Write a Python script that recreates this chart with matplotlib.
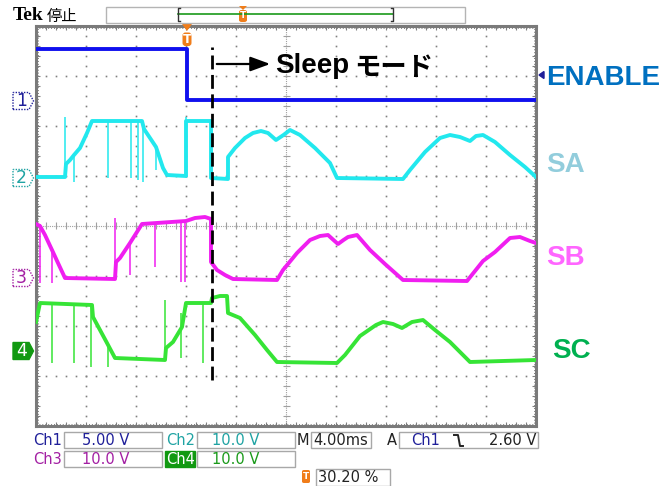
import numpy as np
import matplotlib
matplotlib.use('Agg')
import matplotlib.pyplot as plt
from matplotlib.patches import Polygon, Rectangle, FancyBboxPatch

# Scope settings
TIME_DIV = 4.0                      # ms / div
CH_SCALE = [5.0, 10.0, 10.0, 10.0]  # V / div
CH_OFFSET = [6.5, 4.96, 2.96, 1.5]  # ground level, divisions from bottom
TRIG_POS = 3.02                     # div (30.20 %)
TRIG_LEVEL = 2.60                   # V on Ch1

# Traces: time in ms from left edge, value in volts
ENABLE_T = [0, 12.08, 12.08, 40]
ENABLE_V = [5.2, 5.2, 0.1, 0.1]

SA_T = [0, 2.32, 2.40, 2.72, 3.04, 3.52, 4.08, 4.48, 8.48, 8.64, 9.12, 9.60, 10.16, 10.48,
        12.0, 12.0, 14.0, 14.0, 15.36, 15.36, 15.92, 16.72, 17.36, 18.0, 18.56, 19.2, 19.8,
        20.32, 21.12, 22.32, 23.52, 24.08, 29.36, 29.92, 31.12, 32.32, 33.12, 33.92, 34.72,
        35.2, 35.76, 36.72, 37.92, 39.12, 40.0]
SA_V = [0.2, 0.2, 2.8, 3.6, 4.6, 6.0, 9.0, 11.4, 11.4, 9.8, 8.0, 6.2, 2.0, 0.6,
        0.4, 11.4, 11.4, 0.0, -0.2, 4.2, 6.0, 8.0, 9.0, 9.4, 9.0, 7.6, 8.6,
        9.6, 8.6, 6.0, 3.0, 0.0, -0.2, 1.6, 5.2, 8.0, 8.6, 8.2, 7.4,
        8.4, 8.6, 7.2, 4.6, 2.2, 0.2]
SA_GLITCH_T = [2.32, 3.04, 5.76, 7.6, 8.16, 8.56, 9.6, 12.0]
SA_GLITCH_LO = [0.2, -0.8, 0.0, 0.0, -0.4, -0.8, 1.6, 0.4]
SA_GLITCH_HI = [12.2, 4.6, 11.4, 11.4, 11.4, 11.4, 6.2, 12.2]

SB_T = [0, 0.32, 0.72, 1.28, 1.76, 2.32, 6.32, 6.40, 6.72, 7.52, 8.48, 12.0, 12.72, 13.52,
        14.0, 14.0, 14.48, 15.12, 15.76, 19.28, 19.76, 20.88, 21.92, 22.72, 23.36, 23.8,
        24.16, 24.6, 24.96, 25.68, 26.72, 27.92, 29.36, 34.48, 35.76, 36.72, 37.92, 38.72,
        39.52, 40.0]
SB_V = [10.8, 10.4, 8.6, 5.6, 3.0, 0.0, -0.2, 3.2, 4.0, 7.0, 10.8, 11.4, 12.0, 12.2,
        11.8, 3.2, 1.6, 0.6, -0.2, -0.4, 1.6, 5.0, 7.6, 8.4, 8.6, 7.6,
        6.8, 7.6, 8.2, 8.6, 5.6, 2.8, -0.4, -0.6, 3.4, 5.2, 8.0, 8.2,
        7.4, 7.0]
SB_GLITCH_T = [0.28, 1.28, 6.32, 7.52, 9.52, 11.6, 11.92]
SB_GLITCH_LO = [-1.0, -1.0, -0.2, 0.6, 2.2, -0.8, -0.8]
SB_GLITCH_HI = [10.8, 5.6, 12.0, 7.0, 10.9, 11.2, 11.3]

SC_T = [0, 0.32, 4.48, 4.56, 5.12, 5.68, 6.32, 10.32, 10.4, 10.96, 11.68, 12.0, 14.0,
        14.08, 14.72, 15.28, 15.36, 16.32, 17.52, 18.48, 19.28, 24.08, 24.72, 25.92,
        27.2, 27.76, 28.56, 29.28, 30.08, 30.96, 31.92, 33.12, 34.72, 40.0]
SC_V = [5.8, 9.6, 9.2, 6.8, 4.2, 1.6, -1.4, -1.8, 0.6, 1.8, 4.8, 9.6, 9.6,
        10.6, 11.0, 11.0, 7.6, 6.6, 3.2, 0.2, -2.2, -2.4, -0.8, 3.0,
        5.2, 5.8, 5.4, 4.6, 5.8, 6.2, 4.2, 1.8, -2.2, -1.8]
SC_GLITCH_T = [1.28, 3.04, 4.4, 5.76, 10.32, 11.6, 13.36]
SC_GLITCH_LO = [-2.4, -2.4, -3.2, -3.2, -1.8, -1.4, -2.4]
SC_GLITCH_HI = [9.2, 9.2, 9.2, 1.4, 10.2, 7.6, 9.6]

SLEEP_T = 14.08  # ms, start of sleep mode marker

TRACE_COLORS = ['#1010EE', '#22E8EE', '#F01EF0', '#36E436']
LABELS = ['ENABLE', 'SA', 'SB', 'SC']
LABEL_COLORS = ['#0070C0', '#92CDDC', '#FF66FF', '#00B050']
LABEL_BASE = [85, 172, 265, 358]
MARK_COLORS = ['#1F1F99', '#1FA3A3', '#A31FA3', '#119911']

W, H = 661, 486


def fx(x):
    return x / W


def fy(y):
    return 1 - y / H


def to_div(t, v, ch):
    return np.asarray(t) / TIME_DIV, CH_OFFSET[ch] + np.asarray(v) / CH_SCALE[ch]


fig = plt.figure(figsize=(W / 100, H / 100), dpi=100)
ax = fig.add_axes([fx(36), fy(426), 500 / W, 400 / H])
ax.set_xlim(0, 10)
ax.set_ylim(0, 8)
ax.set_xticks([])
ax.set_yticks([])
for s in ax.spines.values():
    s.set_color('#7a7a7a')
    s.set_linewidth(2.2)

# graticule
grid_c = '#808080'
ys = np.arange(0, 8.01, 0.2)
xs = np.arange(0, 10.01, 0.2)
for xv in range(1, 10):
    if xv == 5:
        continue
    ax.plot(np.full(len(ys), xv), ys, ls='none', marker='s', ms=1.2, color=grid_c, mew=0)
for yv in range(1, 8):
    if yv == 4:
        continue
    ax.plot(xs, np.full(len(xs), yv), ls='none', marker='s', ms=1.2, color=grid_c, mew=0)
ax.axvline(5, color='#a0a0a0', lw=0.8, ls=(0, (1, 1)))
ax.axhline(4, color='#a0a0a0', lw=0.8, ls=(0, (1, 1)))
ax.hlines(ys, 5 - 0.07, 5 + 0.07, color='#a0a0a0', lw=0.8)
ax.vlines(xs, 4 - 0.07, 4 + 0.07, color='#a0a0a0', lw=0.8)
# border ticks
ax.hlines(ys, 0, 0.08, color=grid_c, lw=0.8)
ax.hlines(ys, 10 - 0.08, 10, color=grid_c, lw=0.8)
ax.vlines(xs, 0, 0.08, color=grid_c, lw=0.8)
ax.vlines(xs, 8 - 0.08, 8, color=grid_c, lw=0.8)
for yv in (0.05, 7.95):
    ax.axhline(yv, color=grid_c, lw=0.7, ls=(0, (1, 2)))
for xv in (0.04, 9.96):
    ax.axvline(xv, color=grid_c, lw=0.7, ls=(0, (1, 2)))

# traces
traces = [(ENABLE_T, ENABLE_V, None),
          (SA_T, SA_V, (SA_GLITCH_T, SA_GLITCH_LO, SA_GLITCH_HI)),
          (SB_T, SB_V, (SB_GLITCH_T, SB_GLITCH_LO, SB_GLITCH_HI)),
          (SC_T, SC_V, (SC_GLITCH_T, SC_GLITCH_LO, SC_GLITCH_HI))]
for ch, (t, v, gl) in enumerate(traces):
    x, y = to_div(t, v, ch)
    ax.plot(x, y, color=TRACE_COLORS[ch], lw=2.8, zorder=3, solid_joinstyle='round')
    if gl is not None:
        gx, glo = to_div(gl[0], gl[1], ch)
        _, ghi = to_div(gl[0], gl[2], ch)
        ax.vlines(gx, glo, ghi, color=TRACE_COLORS[ch], lw=1.1, zorder=3)

# sleep marker line
ax.plot([SLEEP_T / TIME_DIV] * 2, [0.92, 7.58], color='k', lw=2, ls=(0, (5, 2)), zorder=5,
        clip_on=False)

# channel markers on the left
for ch in range(4):
    c = CH_OFFSET[ch]
    pts = [(-0.46, c - 0.17), (-0.14, c - 0.17), (-0.05, c), (-0.14, c + 0.17), (-0.46, c + 0.17)]
    if ch == 3:
        poly = Polygon(pts, closed=True, fc=MARK_COLORS[ch], ec=MARK_COLORS[ch], lw=1,
                       clip_on=False, zorder=6)
        tc = 'white'
    else:
        poly = Polygon(pts, closed=True, fc='white', ec=MARK_COLORS[ch], lw=1, ls=(0, (1, 1)),
                       clip_on=False, zorder=6)
        tc = MARK_COLORS[ch]
    ax.add_patch(poly)
    ax.text(-0.29, c, str(ch + 1), color=tc, fontsize=12.5, ha='center', va='center',
            family='DejaVu Sans', zorder=7, clip_on=False)

# trigger level marker (right)
tl = CH_OFFSET[0] + TRIG_LEVEL / CH_SCALE[0]
ax.add_patch(Polygon([(10.06, tl), (10.16, tl + 0.07), (10.16, tl - 0.07)], closed=True,
                     fc=MARK_COLORS[0], ec=MARK_COLORS[0], clip_on=False))

# trigger position marker (top)
ax.add_patch(Polygon([(TRIG_POS - 0.1, 8.04), (TRIG_POS + 0.1, 8.04), (TRIG_POS, 7.9)],
                     closed=True, fc='#F07D1A', ec='none', clip_on=False, zorder=6))
ax.add_patch(FancyBboxPatch((TRIG_POS - 0.09, 7.6), 0.18, 0.27,
                            boxstyle='round,pad=0,rounding_size=0.06',
                            fc='#F07D1A', ec='none', clip_on=False, zorder=6))
ax.text(TRIG_POS, 7.735, 'T', color='white', fontsize=9, fontweight='bold', ha='center',
        va='center', zorder=7)

# arrow + Sleep text
fig.patches.append(matplotlib.patches.FancyArrowPatch(
    (fx(214), fy(64)), (fx(273), fy(64)), transform=fig.transFigure,
    arrowstyle='-|>,head_length=0.6,head_width=0.22', mutation_scale=20, lw=1.6, color='k'))
fig.text(fx(275), fy(73), 'Sleep', fontsize=20, fontweight='bold', family='Liberation Sans',
         va='baseline')
fig.text(fx(354), fy(75), 'モード', fontsize=19, fontweight='bold', family='Noto Sans CJK JP',
         va='baseline')

# right labels
for lab, col, yb in zip(LABELS, LABEL_COLORS, LABEL_BASE):
    fig.text(fx(546 if lab != 'SC' else 552), fy(yb), lab, fontsize=20, fontweight='bold',
             family='Liberation Sans', color=col, va='baseline')

# top status bar
fig.text(fx(13), fy(20), 'Tek', fontsize=14, fontweight='bold', family='Liberation Serif',
         va='baseline')
fig.text(fx(47), fy(21), '停止', fontsize=11, family='Noto Sans CJK JP', va='baseline')
fig.patches.append(Rectangle((fx(106), fy(23)), (465 - 106) / W, 16 / H,
                             transform=fig.transFigure, fc='white', ec='#b4b4b4', lw=1))
fig.lines.append(plt.Line2D([fx(178), fx(393)], [fy(14), fy(14)], transform=fig.transFigure,
                            color='#1A9A1A', lw=1.2))
for bx, d in ((178, 1), (393, -1)):
    fig.lines.append(plt.Line2D([fx(bx + 2 * d), fx(bx), fx(bx), fx(bx + 2 * d)],
                                [fy(8), fy(8), fy(21), fy(21)], transform=fig.transFigure,
                                color='#333333', lw=1))
fig.patches.append(Polygon([(fx(239), fy(6)), (fx(247), fy(6)), (fx(243), fy(10))], closed=True,
                           transform=fig.transFigure, fc='#F07D1A', ec='none'))
fig.patches.append(FancyBboxPatch((fx(239), fy(22)), 8 / W, 12 / H,
                                  boxstyle='round,pad=0,rounding_size=0.004',
                                  transform=fig.transFigure, fc='#F07D1A', ec='none'))
fig.text(fx(243), fy(16), 'T', color='white', fontsize=6.5, fontweight='bold', ha='center',
         va='center')

# bottom readouts
RD_FONT = dict(fontsize=10.5, family='DejaVu Sans', va='center')


def box(x0, y0, x1, y1, fc='white', ec='#a8a8a8'):
    fig.patches.append(Rectangle((fx(x0), fy(y1)), (x1 - x0) / W, (y1 - y0) / H,
                                 transform=fig.transFigure, fc=fc, ec=ec, lw=1))


box(64, 432, 162, 448)
box(197, 432, 295, 448)
box(311, 432, 371, 448)
box(399, 432, 538, 448)
box(64, 451, 162, 467)
box(197, 451, 295, 467)
box(165, 451, 195, 467, fc='#119911', ec='#119911')
box(316, 469, 390, 486)

fig.text(fx(33), fy(440), 'Ch1', color=MARK_COLORS[0], **RD_FONT)
fig.text(fx(82), fy(440), '5.00 V', color=MARK_COLORS[0], **RD_FONT)
fig.text(fx(166), fy(440), 'Ch2', color=MARK_COLORS[1], **RD_FONT)
fig.text(fx(212), fy(440), '10.0 V', color=MARK_COLORS[1], **RD_FONT)
fig.text(fx(297), fy(440), 'M', color='#222222', **RD_FONT)
fig.text(fx(313), fy(440), '4.00ms', color='#222222', **RD_FONT)
fig.text(fx(387), fy(440), 'A', color='#222222', **RD_FONT)
fig.text(fx(411), fy(440), 'Ch1', color=MARK_COLORS[0], **RD_FONT)
fig.lines.append(plt.Line2D([fx(454), fx(458), fx(460), fx(463)],
                            [fy(435), fy(435), fy(446), fy(446)],
                            transform=fig.transFigure, color='#222222', lw=1.4))
fig.text(fx(536), fy(440), '%.2f V' % TRIG_LEVEL, color='#222222', ha='right',
         fontsize=10.5, family='DejaVu Sans', va='center')

fig.text(fx(33), fy(459), 'Ch3', color=MARK_COLORS[2], **RD_FONT)
fig.text(fx(82), fy(459), '10.0 V', color=MARK_COLORS[2], **RD_FONT)
fig.text(fx(166), fy(459), 'Ch4', color='white', **RD_FONT)
fig.text(fx(212), fy(459), '10.0 V', color='#1A9A1A', **RD_FONT)

fig.patches.append(FancyBboxPatch((fx(302), fy(483)), 8 / W, 13 / H,
                                  boxstyle='round,pad=0,rounding_size=0.003',
                                  transform=fig.transFigure, fc='#F07D1A', ec='none'))
fig.text(fx(306), fy(476.5), 'T', color='white', fontsize=6.5, fontweight='bold',
         ha='center', va='center')
fig.text(fx(318), fy(477), '%.2f %%' % (TRIG_POS * 10), color='#222222', **RD_FONT)

fig.savefig('out.png', dpi=100)
